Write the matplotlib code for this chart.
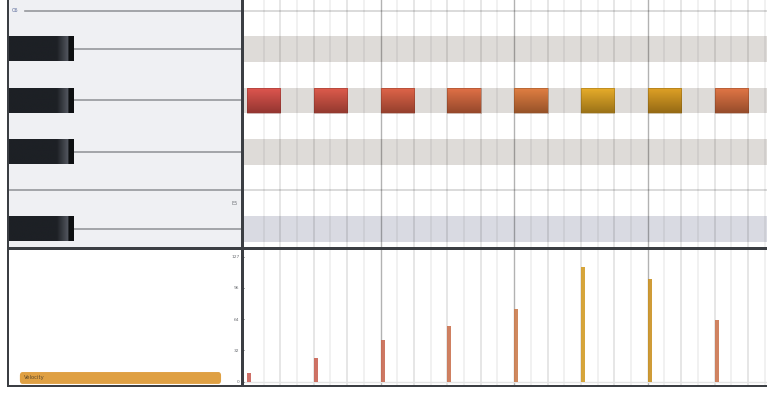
import numpy as np
import matplotlib
matplotlib.use("Agg")
import matplotlib.pyplot as plt
from matplotlib.colors import LinearSegmentedColormap, to_rgb
from matplotlib.patches import Rectangle, FancyBboxPatch

# ---------------- data ----------------
note_starts = [0, 2, 4, 6, 8, 10, 12, 14]          # beats
note_durations = [1, 1, 1, 1, 1, 1, 1, 1]          # beats
note_pitches = [80, 80, 80, 80, 80, 80, 80, 80]    # G#5
velocities = [9, 24, 43, 57, 74, 117, 105, 63]

black_pitches = [75, 78, 80, 82]                   # D#5, F#5, G#5, A#5
highlight_pitches = [75]                           # bluish row
white_boundaries = [76.5, 83.5]                    # E/F and B/C
key_labels = ["C6", "E5"]
key_label_pitch = [83.5, 76]
vel_ticks = [0, 32, 64, 96, 127]
vel_ticklabels = ["0", "32", "64", "96", "127"]
n_bars = 4
beats_per_bar = 4

# ---------------- layout ----------------
W, H = 767, 417
fig = plt.figure(figsize=(W / 100, H / 100), dpi=100)
fig.patch.set_facecolor("white")

def fa(x0, y0, x1, y1):
    return [x0 / W, 1 - y1 / H, (x1 - x0) / W, (y1 - y0) / H]

fig.patches.append(Rectangle((7 / W, 1 - 387 / H), 760 / W, 387 / H,
                             transform=fig.transFigure, facecolor="#3b3e43",
                             edgecolor="none", zorder=-10))

kb = fig.add_axes(fa(9, 0, 241, 247))
roll = fig.add_axes(fa(244, 0, 767, 247))
lbl = fig.add_axes(fa(9, 250, 241, 385))
vel = fig.add_axes(fa(244, 250, 767, 385))

YLIM = (74.30, 83.91)
XLIM = (-0.09, 15.57)
VLIM = (-3.05, 134.1)

for ax in (kb, roll, lbl, vel):
    for s in ax.spines.values():
        s.set_visible(False)
    ax.set_xticks([])
    ax.set_yticks([])

# color map for velocity
cmap = LinearSegmentedColormap.from_list(
    "vel", [(0.0, "#c94644"), (0.3, "#c9533e"), (0.5, "#cc683a"),
            (0.62, "#cc7336"), (0.82, "#c98f1c"), (1.0, "#d9a424")])

# ---------------- keyboard ----------------
kb.set_facecolor("#eff0f3")
kb.set_xlim(0, 1)
kb.set_ylim(*YLIM)
bk_w = 0.276
t = np.linspace(0, 1, 128)
dark = np.array(to_rgb("#1d2025"))
light = np.array(to_rgb("#555961"))
edge = np.array(to_rgb("#0e1012"))
grad = np.zeros((1, 128, 3))
for i, tv in enumerate(t):
    if tv < 0.74:
        c = dark
    elif tv < 0.92:
        f = (tv - 0.74) / 0.18
        c = dark * (1 - f) + light * f
    else:
        c = edge
    grad[0, i] = c
for p in black_pitches:
    kb.plot([bk_w, 1], [p, p], color="#96989c", lw=1.2, zorder=1)
    kb.imshow(grad, extent=(0, bk_w, p - 0.47, p + 0.47), aspect="auto",
              interpolation="bilinear", zorder=3)
for b in white_boundaries:
    x0 = 0.07 if b > 80 else 0
    kb.plot([x0, 1], [b, b], color="#96989c", lw=1.2, zorder=1)
kb.text(0.012, key_label_pitch[0], key_labels[0], fontsize=3.6, color="#5a6a9a",
        va="center", ha="left", zorder=4)
kb.text(0.985, key_label_pitch[1], key_labels[1], fontsize=3.6, color="#707378",
        va="center", ha="right", zorder=4)
kb.set_xlim(0, 1)
kb.set_ylim(*YLIM)

# ---------------- roll ----------------
roll.set_facecolor("white")
for p in black_pitches:
    col = "#d9dae2" if p in highlight_pitches else "#dedbd8"
    roll.axhspan(p - 0.5, p + 0.5, color=col, lw=0, zorder=0)
for b in white_boundaries:
    roll.axhline(b, color="#d4d4d4", lw=1.2, zorder=1)

def grid_lines(ax):
    total = n_bars * beats_per_bar
    for k in range(1, int(total * 2) + 1):
        x = k / 2
        if k % (2 * beats_per_bar) == 0:
            ax.axvline(x, color="black", alpha=0.30, lw=1.0, zorder=1)
        elif k % 2 == 0:
            ax.axvline(x, color="black", alpha=0.13, lw=1.1, zorder=1)
        else:
            ax.axvline(x, color="black", alpha=0.07, lw=1.1, zorder=1)

grid_lines(roll)

n = 24
tt = np.linspace(0, 1, n)[:, None]
for s, d, p, v in zip(note_starts, note_durations, note_pitches, velocities):
    base = np.array(cmap(v / 127)[:3])
    top = np.clip(base * 1.06 + 0.03, 0, 1)
    bot = base * 0.74
    img = top[None, :] * (1 - tt) + bot[None, :] * tt
    img = img[:, None, :]
    roll.imshow(img, extent=(s, s + d, p - 0.47, p + 0.47), origin="upper",
                aspect="auto", interpolation="bilinear", zorder=3)
    roll.add_patch(Rectangle((s, p - 0.47), d, 0.94, fill=False,
                             edgecolor=tuple(base * 0.6), lw=0.5, alpha=0.5, zorder=4))
roll.set_xlim(*XLIM)
roll.set_ylim(*YLIM)

# ---------------- velocity label panel ----------------
lbl.set_facecolor("white")
lbl.set_xlim(0, 1)
lbl.set_ylim(0, 1)
lbl.add_patch(FancyBboxPatch((0.047, 0.008), 0.867, 0.088,
                             boxstyle="round,pad=0,rounding_size=0.012",
                             mutation_aspect=2.0,
                             transform=lbl.transAxes, facecolor="#dfa043",
                             edgecolor="none"))
lbl.text(0.065, 0.052, "Velocity", fontsize=3.8, color="#5e4a2c",
         va="center", ha="left", transform=lbl.transAxes)

# ---------------- velocity lane ----------------
vel.set_facecolor("white")
grid_lines(vel)
vel.axhline(0, color="#e4e4e4", lw=1.0, zorder=1)
bar_colors = []
for v in velocities:
    c = np.array(cmap(v / 127)[:3])
    mix = 0.25 if v < 100 else 0.05
    c = c * (1 - mix) + np.array(to_rgb("#c8a090")) * mix
    bar_colors.append(tuple(c))
vel.bar(note_starts, velocities, width=0.12, align="edge",
        color=bar_colors, alpha=0.9, edgecolor="none", zorder=3)
vel.set_xlim(*XLIM)
vel.set_ylim(*VLIM)
vel.set_yticks(vel_ticks)
vel.set_yticklabels(vel_ticklabels, fontsize=3.2, color="#6a6d72")
vel.tick_params(axis="y", length=2, width=0.6, color="#3b3e43", pad=1.2)

fig.savefig("out.png", dpi=100, facecolor="white")
